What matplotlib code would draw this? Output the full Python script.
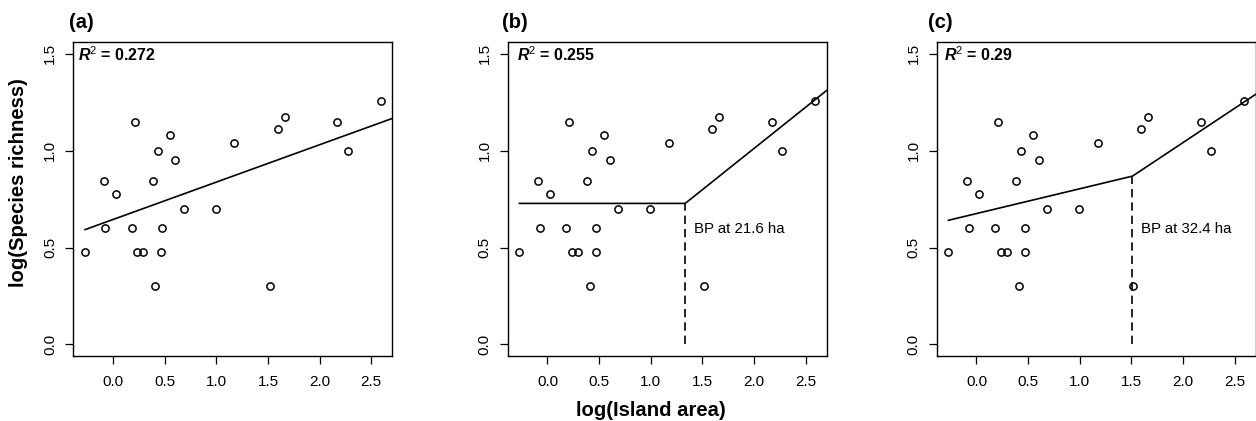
import numpy as np
import matplotlib
matplotlib.use('Agg')
import matplotlib.pyplot as plt

plt.rcParams['font.family'] = ['Liberation Sans', 'DejaVu Sans']
plt.rcParams['mathtext.fontset'] = 'custom'
plt.rcParams['mathtext.rm'] = 'Liberation Sans'
plt.rcParams['mathtext.it'] = 'Liberation Sans:italic'
plt.rcParams['mathtext.bf'] = 'Liberation Sans:bold'
plt.rcParams['mathtext.bfit'] = 'Liberation Sans:italic:bold'

# log(island area) and log(species richness)
log_area = [-0.271, -0.087, -0.074, 0.026, 0.184, 0.210, 0.235, 0.294,
            0.387, 0.410, 0.432, 0.468, 0.474, 0.552, 0.603, 0.684,
            0.997, 1.174, 1.516, 1.597, 1.665, 2.171, 2.271, 2.590]
log_rich = [0.477, 0.845, 0.602, 0.778, 0.602, 1.146, 0.477, 0.477,
            0.845, 0.301, 1.000, 0.477, 0.602, 1.079, 0.954, 0.699,
            0.699, 1.041, 0.301, 1.114, 1.176, 1.146, 1.000, 1.255]

panel_labels = ['(a)', '(b)', '(c)']
r2_values = ['0.272', '0.255', '0.29']

# (a) linear fit
lin_intercept = 0.645
lin_slope = 0.193
# (b) breakpoint model: flat then rising
bp_b = 1.334
bp_b_level = 0.728
bp_b_slope_right = 0.426
bp_b_label = 'BP at 21.6 ha'
# (c) breakpoint model: two slopes
bp_c = 1.511
bp_c_level = 0.869
bp_c_slope_left = 0.128
bp_c_slope_right = 0.354
bp_c_label = 'BP at 32.4 ha'

W, H = 1256, 421
fig = plt.figure(figsize=(W / 100, H / 100), dpi=100)

lefts = [73.3, 507.7, 936.7]
ax_w = 319.0
ax_top, ax_bot = 42.3, 356.0
r2_dx = [4.4, 9.0, 7.3]
lab_x = [69, 501.7, 928.3]

x_lo = min(log_area)
x_hi = 2.9

axes = []
for i in range(3):
    ax = fig.add_axes([lefts[i] / W, 1 - ax_bot / H, ax_w / W, (ax_bot - ax_top) / H])
    axes.append(ax)
    ax.plot(log_area, log_rich, 'o', ms=5.2, mfc='none', mec='black', mew=1.1, zorder=3)
    ax.set_xlim(-0.385, 2.704)
    ax.set_ylim(-0.06, 1.56)
    ax.set_xticks([0.0, 0.5, 1.0, 1.5, 2.0, 2.5])
    ax.set_yticks([0.0, 0.5, 1.0, 1.5])
    ax.set_xticklabels(['0.0', '0.5', '1.0', '1.5', '2.0', '2.5'])
    ax.set_yticklabels(['0.0', '0.5', '1.0', '1.5'], rotation=90, va='center')
    ax.tick_params(axis='both', direction='out', length=5.5, width=0.9, labelsize=11,
                   colors='black', labelcolor='black')
    ax.tick_params(axis='x', pad=8)
    ax.tick_params(axis='y', pad=6)
    for s in ax.spines.values():
        s.set_linewidth(1.0)
    ax.annotate(r'$\mathbfit{R}^{\mathrm{2}}$ = ' + r2_values[i], xy=(0, 1), xycoords='axes fraction',
                xytext=(r2_dx[i] * 0.72, -12.7 * 0.72), textcoords='offset points',
                ha='left', va='center', fontsize=11.5, fontweight='bold')
    fig.text(lab_x[i] / W, 1 - 23 / H, panel_labels[i], fontsize=14.5, fontweight='bold',
             ha='left', va='center')

# (a)
xs = np.array([x_lo, x_hi])
axes[0].plot(xs, lin_intercept + lin_slope * xs, color='black', lw=1.2)

# (b)
xb = [x_lo, bp_b, x_hi]
yb = [bp_b_level, bp_b_level, bp_b_level + bp_b_slope_right * (x_hi - bp_b)]
axes[1].plot(xb, yb, color='black', lw=1.2)
axes[1].plot([bp_b, bp_b], [0, bp_b_level], color='black', lw=1.2, dashes=(5, 3))
axes[1].text(bp_b + 0.085, 0.596, bp_b_label, fontsize=10.8, ha='left', va='center')

# (c)
xc = [x_lo, bp_c, x_hi]
yc = [bp_c_level - bp_c_slope_left * (bp_c - x_lo), bp_c_level,
      bp_c_level + bp_c_slope_right * (x_hi - bp_c)]
axes[2].plot(xc, yc, color='black', lw=1.2)
axes[2].plot([bp_c, bp_c], [0, bp_c_level], color='black', lw=1.2, dashes=(5, 3))
axes[2].text(bp_c + 0.082, 0.597, bp_c_label, fontsize=10.8, ha='left', va='center')

fig.text(19 / W, 1 - 183 / H, 'log(Species richness)', rotation=90, fontsize=14.6,
         fontweight='bold', ha='center', va='center')
fig.text(651 / W, 1 - 410 / H, 'log(Island area)', fontsize=14.6,
         fontweight='bold', ha='center', va='center')

fig.savefig('out.png', dpi=100)
